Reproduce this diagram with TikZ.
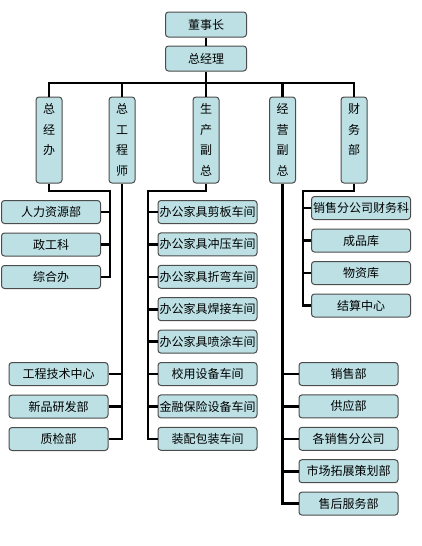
\documentclass[tikz,border=0pt]{standalone}
\usepackage{fontspec}
\setmainfont{Noto Sans CJK SC}
\definecolor{boxfill}{RGB}{188,224,228}

\begin{document}
\begin{tikzpicture}[x=1pt,y=-1pt,
  box/.style={draw=black!70,fill=boxfill,rounded corners=3pt,line width=1pt,
    minimum width=99pt,minimum height=23pt,inner sep=0pt,
    font=\fontsize{12}{14}\selectfont},
  topbox/.style={box,minimum width=81pt,minimum height=25pt},
  vbox/.style={box,minimum width=26pt,minimum height=86pt,align=center,
    font=\fontsize{12}{20.5}\selectfont},
  link/.style={line width=2.6pt}]
\useasboundingbox (0,0) rectangle (422,546);
% top
\node[topbox] (chair) at (206,24.5) {董事长};
\node[topbox] (gm) at (206,58.5) {总经理};
\coordinate (bus) at (206,83);
% second level
\node[vbox] (office) at (49,140) {总\\经\\办\\\phantom{总}};
\node[vbox] (eng) at (122,140) {总\\工\\程\\师};
\node[vbox] (prod) at (206,140) {生\\产\\副\\总};
\node[vbox] (sales) at (282.5,140) {经\\营\\副\\总};
\node[vbox] (fin) at (354,140) {财\\务\\部\\\phantom{总}};
\draw[link] (chair) -- (gm);
\draw[link] (gm.south) -- (bus);
\draw[link] (office.north) -- (office.north |- bus) -- (fin.north |- bus) -- (fin.north);
\foreach \n in {eng,prod,sales}
  \draw[link] (\n.north) -- (\n.north |- bus);
% general office
\coordinate (b1) at (110,191);
\node[box] (hr) at (51,212) {人力资源部};
\node[box] (pol) at (51,244.5) {政工科};
\node[box] (adm) at (51,277) {综合办};
\draw[link] (office.south) |- (b1) |- (adm.east);
\foreach \n in {hr,pol}
  \draw[link] (\n.east) -- (\n.east -| b1);
% chief engineer
\node[box] (tech) at (58.5,374) {工程技术中心};
\node[box] (rnd) at (58.5,406.5) {新品研发部};
\node[box] (qc) at (58.5,439) {质检部};
\draw[link] (eng.south) |- (qc.east);
\foreach \n in {tech,rnd}
  \draw[link] (\n.east) -- (\n.east -| eng.south);
% production
\coordinate (b3) at (148,191);
\node[box] (w1) at (207.5,212) {办公家具剪板车间};
\node[box] (w2) at (207.5,244.4) {办公家具冲压车间};
\node[box] (w3) at (207.5,276.8) {办公家具折弯车间};
\node[box] (w4) at (207.5,309.2) {办公家具焊接车间};
\node[box] (w5) at (207.5,341.6) {办公家具喷涂车间};
\node[box] (w6) at (207.5,374) {校用设备车间};
\node[box] (w7) at (207.5,406.4) {金融保险设备车间};
\node[box] (w8) at (207.5,438.8) {装配包装车间};
\draw[link] (prod.south) |- (b3) |- (w8.west);
\foreach \n in {w1,w2,w3,w4,w5,w6,w7}
  \draw[link] (\n.west) -- (\n.west -| b3);
% sales
\node[box] (s1) at (348.5,374) {销售部};
\node[box] (s2) at (348.5,406.4) {供应部};
\node[box] (s3) at (348.5,438.8) {各销售分公司};
\node[box] (s4) at (348.5,471.2) {市场拓展策划部};
\node[box] (s5) at (348.5,503.6) {售后服务部};
\draw[link] (sales.south) |- (s5.west);
\foreach \n in {s1,s2,s3,s4}
  \draw[link] (\n.west) -- (\n.west -| sales.south);
% finance
\coordinate (b5) at (303,191);
\node[box] (f1) at (361,208) {销售分公司财务科};
\node[box] (f2) at (361,240.5) {成品库};
\node[box] (f3) at (361,273) {物资库};
\node[box] (f4) at (361,305.5) {结算中心};
\draw[link] (fin.south) |- (b5) |- (f4.west);
\foreach \n in {f1,f2,f3}
  \draw[link] (\n.west) -- (\n.west -| b5);
\end{tikzpicture}
\end{document}
